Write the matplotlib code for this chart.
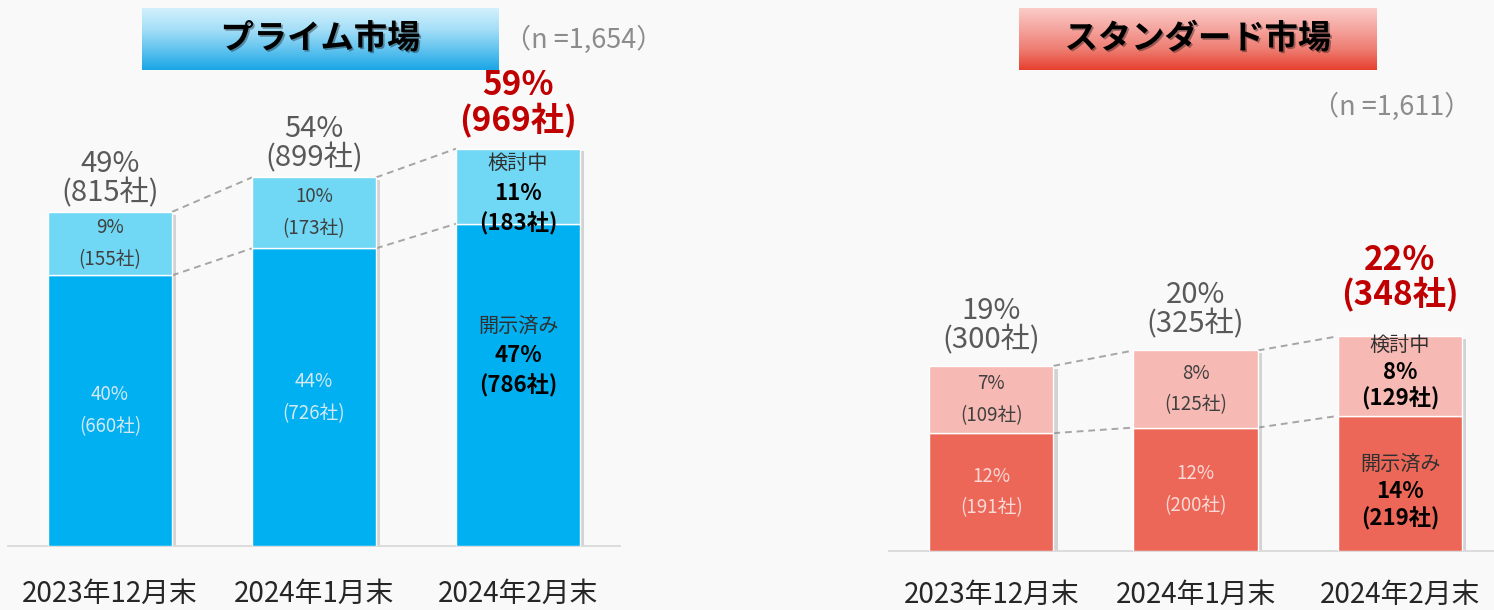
import matplotlib
matplotlib.use('Agg')
import matplotlib.pyplot as plt
import numpy as np
from matplotlib import patheffects as pe
from matplotlib.colors import LinearSegmentedColormap

plt.rcParams['font.family'] = ['Noto Sans CJK JP', 'DejaVu Sans']

# ---------------- data ----------------
categories = ["2023年12月末", "2024年1月末", "2024年2月末"]

prime_title = "プライム市場"
prime_n = "（n =1,654）"
prime_disclosed = [660, 726, 786]
prime_disclosed_pct = [40, 44, 47]
prime_considering = [155, 173, 183]
prime_considering_pct = [9, 10, 11]
prime_total = [815, 899, 969]
prime_total_pct = [49, 54, 59]

std_title = "スタンダード市場"
std_n = "（n =1,611）"
std_disclosed = [191, 200, 219]
std_disclosed_pct = [12, 12, 14]
std_considering = [109, 125, 129]
std_considering_pct = [7, 8, 8]
std_total = [300, 325, 348]
std_total_pct = [19, 20, 22]

label_disclosed = "開示済み"
label_considering = "検討中"

# ---------------- layout ----------------
W, H = 1494, 610
fig = plt.figure(figsize=(W / 100, H / 100), dpi=100)
BG = '#f9f9f9'
fig.patch.set_facecolor(BG)
P2PT = 0.72  # pixel -> point at 100 dpi


def px_axes(x0, y0, x1, y1):
    return fig.add_axes([x0 / W, 1 - y1 / H, (x1 - x0) / W, (y1 - y0) / H])


def lbl(ax, s, x, y, dy_px, **kw):
    ax.annotate(s, xy=(x, y), xytext=(0, -dy_px * P2PT), textcoords='offset points',
                ha='center', va='center', zorder=6, **kw)


def draw_panel(ax, disclosed, d_pct, considering, c_pct, total, t_pct,
               low_c, up_c, low_txt, ymax, xmax, gray_off, red_off,
               last_up_off, last_low_off, last_sp, tick_pad):
    x = np.arange(len(categories))
    bw = 0.608
    shadow = [pe.SimplePatchShadow(offset=(3, -2), shadow_rgbFace='#8c8c8c', alpha=0.35)]
    ax.bar(x, total, bw, color='none', edgecolor='none', path_effects=shadow, zorder=2)
    ax.bar(x, disclosed, bw, color=low_c, edgecolor='white', linewidth=1.0, zorder=3)
    ax.bar(x, considering, bw, bottom=disclosed, color=up_c, edgecolor='white',
           linewidth=1.0, zorder=3)

    for i in range(len(x) - 1):
        for vals in (disclosed, total):
            ax.plot([x[i] + bw / 2, x[i + 1] - bw / 2], [vals[i], vals[i + 1]],
                    ls=(0, (3.5, 2.5)), color='#a6a6a6', lw=1.4, zorder=1)

    n = len(x)
    for i in range(n):
        lowc = disclosed[i] / 2
        upc = disclosed[i] + considering[i] / 2
        if i < n - 1:
            lbl(ax, f"{c_pct[i]}%", x[i], upc, -16, fontsize=13.5, color='#404040')
            lbl(ax, f"({considering[i]}社)", x[i], upc, 16, fontsize=13.5, color='#404040')
            lbl(ax, f"{d_pct[i]}%", x[i], lowc, -16, fontsize=13.5, color=low_txt)
            lbl(ax, f"({disclosed[i]}社)", x[i], lowc, 16, fontsize=13.5, color=low_txt)
            lbl(ax, f"{t_pct[i]}%", x[i], total[i], -gray_off[0], fontsize=21, color='#595959')
            lbl(ax, f"({total[i]}社)", x[i], total[i], -gray_off[1], fontsize=21, color='#595959')
        else:
            lbl(ax, label_considering, x[i], upc, last_up_off - last_sp, fontsize=14.5, color='#303030')
            lbl(ax, f"{c_pct[i]}%", x[i], upc, last_up_off, fontsize=16, color='black', fontweight='bold')
            lbl(ax, f"({considering[i]}社)", x[i], upc, last_up_off + last_sp, fontsize=16,
                color='black', fontweight='bold')
            lbl(ax, label_disclosed, x[i], lowc, last_low_off - last_sp, fontsize=14.5, color='#303030')
            lbl(ax, f"{d_pct[i]}%", x[i], lowc, last_low_off, fontsize=16, color='black', fontweight='bold')
            lbl(ax, f"({disclosed[i]}社)", x[i], lowc, last_low_off + last_sp, fontsize=16,
                color='black', fontweight='bold')
            lbl(ax, f"{t_pct[i]}%", x[i], total[i], -red_off[0], fontsize=24, color='#c00000',
                fontweight='bold')
            lbl(ax, f"({total[i]}社)", x[i], total[i], -red_off[1], fontsize=24, color='#c00000',
                fontweight='bold')

    ax.set_xlim(-0.5, xmax)
    ax.set_ylim(0, ymax)
    ax.set_facecolor('none')
    for s in ('top', 'right', 'left'):
        ax.spines[s].set_visible(False)
    ax.spines['bottom'].set_color('#d9d9d9')
    ax.spines['bottom'].set_linewidth(1.3)
    ax.set_yticks([])
    ax.set_xticks(x)
    ax.set_xticklabels(categories, fontsize=20, color='#262626')
    ax.tick_params(axis='x', length=0, pad=tick_pad)


# left panel (baseline y=546 px, 0.41 px per company)
axL = px_axes(8, 0, 620, 546)
draw_panel(axL, prime_disclosed, prime_disclosed_pct, prime_considering, prime_considering_pct,
           prime_total, prime_total_pct, '#00b0f0', '#70d7f4', '#d4e8f4',
           546 / 0.41, 2.5, (48, 19), (63, 29), 7, -29, 30, 24)

# right panel (baseline y=551 px, 0.617 px per company)
axR = px_axes(889, 0, 1494, 551)
draw_panel(axR, std_disclosed, std_disclosed_pct, std_considering, std_considering_pct,
           std_total, std_total_pct, '#ec6758', '#f7b9b3', '#f8d9d5',
           551 / 0.617, (1494 - 991) / 204.5, (55, 26), (76, 42), -4, 8, 27, 21)


def title_box(x0, y0, x1, y1, colors, text):
    tax = px_axes(x0, y0, x1, y1)
    cmap = LinearSegmentedColormap.from_list('g', colors)
    grad = np.linspace(0, 1, 200).reshape(-1, 1)
    tax.imshow(grad, aspect='auto', cmap=cmap, extent=[0, 1, 0, 1], origin='upper')
    tax.set_axis_off()
    tax.text(0.5, 0.5, text, ha='center', va='center', fontsize=24, fontweight='bold',
             color='black', transform=tax.transAxes,
             path_effects=[pe.withSimplePatchShadow(offset=(1.2, -1.2), alpha=0.35)])


title_box(142, 8, 499, 70, ['#d2f0fc', '#a6dff7', '#62c3ef', '#1aa6e6'], prime_title)
title_box(1019, 8, 1377, 70, ['#fbcbc8', '#f5a59f', '#ee7d72', '#e6402f'], std_title)

fig.text(584 / W, 1 - 40 / H, prime_n, ha='center', va='center', fontsize=19.5, color='#8c8c8c')
fig.text(1392 / W, 1 - 107 / H, std_n, ha='center', va='center', fontsize=19.5, color='#8c8c8c')

fig.savefig('out.png', dpi=100, facecolor=BG)
